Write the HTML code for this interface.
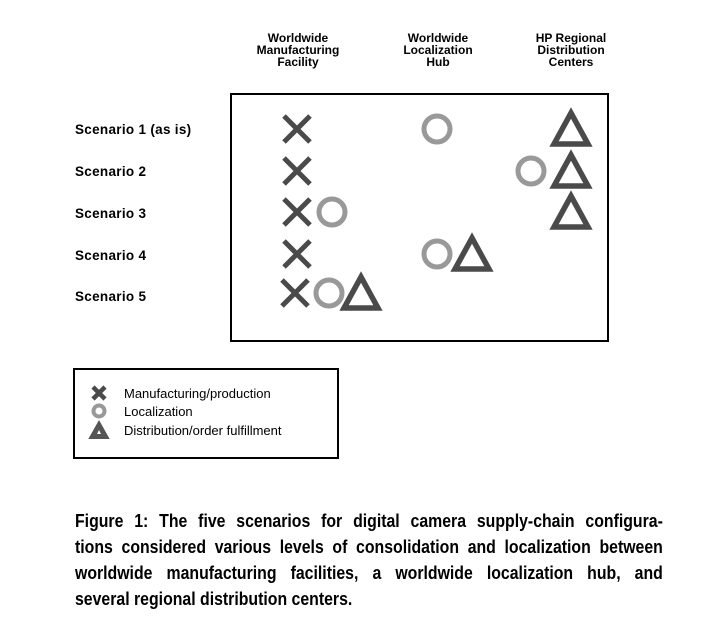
<!DOCTYPE html>
<html><head><style>
body{margin:0;width:704px;height:634px;background:#fff;position:relative;overflow:hidden;font-family:"Liberation Sans",sans-serif}
.h{position:absolute;text-align:center;font-weight:bold;font-size:12px;line-height:12px;width:120px}
.s{position:absolute;left:75px;font-weight:bold;font-size:13.5px;letter-spacing:0.3px}
.cap{position:absolute;left:75px;width:668px;transform:scaleX(0.88);transform-origin:0 0;font-weight:bold;font-size:18px;line-height:26px}
.cap div{text-align:justify;text-align-last:justify;white-space:nowrap}
.cap div.l{text-align-last:left}
.lg{position:absolute;left:124px;font-size:13px}
</style></head><body>
<div class="h" style="left:238px;top:32px">Worldwide<br>Manufacturing<br>Facility</div>
<div class="h" style="left:378px;top:32px">Worldwide<br>Localization<br>Hub</div>
<div class="h" style="left:511px;top:32px">HP Regional<br>Distribution<br>Centers</div>
<div class="s" style="top:122px">Scenario 1 (as is)</div>
<div class="s" style="top:164px">Scenario 2</div>
<div class="s" style="top:206px">Scenario 3</div>
<div class="s" style="top:248px">Scenario 4</div>
<div class="s" style="top:289px">Scenario 5</div>
<svg width="704" height="634" style="position:absolute;left:0;top:0">
<defs>
<g id="x"><path d="M-13,-13L13,13M13,-13L-13,13" stroke="#4a4a4a" stroke-width="5"/></g>
<g id="o"><circle r="13" fill="none" stroke="#999" stroke-width="5"/></g>
<g id="t"><path d="M0,-16L17,15H-17Z" fill="none" stroke="#4a4a4a" stroke-width="5.5" stroke-linejoin="miter"/></g>
</defs>
<rect x="231" y="94" width="377" height="247" fill="none" stroke="#000" stroke-width="2"/>
<use href="#x" x="297" y="129"/><use href="#o" x="437" y="129"/><use href="#t" x="571" y="129"/>
<use href="#x" x="297" y="171"/><use href="#o" x="531" y="171"/><use href="#t" x="571" y="171"/>
<use href="#x" x="297" y="212"/><use href="#o" x="332" y="212"/><use href="#t" x="571" y="212"/>
<use href="#x" x="297" y="254"/><use href="#o" x="437" y="254"/><use href="#t" x="472" y="254"/>
<use href="#x" x="295" y="293"/><use href="#o" x="329" y="293"/><use href="#t" x="361" y="293"/>
<rect x="74" y="369" width="264" height="89" fill="none" stroke="#000" stroke-width="2"/>
<path d="M93,387L105,399M105,387L93,399" stroke="#4a4a4a" stroke-width="4.5"/>
<circle cx="99" cy="411" r="5.5" fill="none" stroke="#999" stroke-width="4"/>
<path d="M99,422L108,438H90Z" fill="#555" stroke="#555" stroke-width="2"/>
<path d="M99,430L101,434H97Z" fill="#fff"/>
</svg>
<div class="lg" style="top:386px">Manufacturing/production</div>
<div class="lg" style="top:404px">Localization</div>
<div class="lg" style="top:423px">Distribution/order fulfillment</div>
<div class="cap" style="top:508px">
<div>Figure 1: The five scenarios for digital camera supply-chain configura-</div>
<div>tions considered various levels of consolidation and localization between</div>
<div>worldwide manufacturing facilities, a worldwide localization hub, and</div>
<div class="l">several regional distribution centers.</div>
</div>
</body></html>
